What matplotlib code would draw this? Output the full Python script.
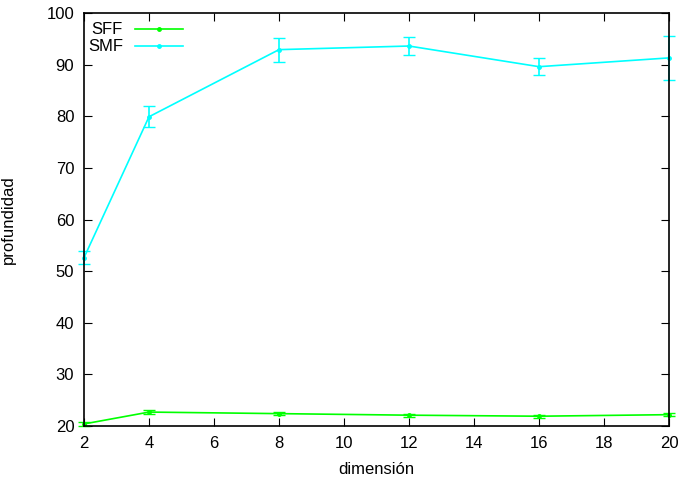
#!/usr/bin/env python3

import matplotlib
matplotlib.use("Agg")
import matplotlib.pyplot as plt

plt.rcParams['font.family'] = ['Liberation Sans', 'DejaVu Sans']

dim = [2, 4, 8, 12, 16, 20]

sff = [20.4, 22.7, 22.4, 22.1, 21.9, 22.2]
sff_err = [0.3, 0.4, 0.3, 0.3, 0.3, 0.3]

smf = [52.6, 79.9, 92.9, 93.6, 89.6, 91.3]
smf_err = [1.3, 2.0, 2.3, 1.8, 1.7, 4.3]

names = ["SFF", "SMF"]
colors = ["#00ff00", "#00ffff"]

fig = plt.figure(figsize=(6.79, 4.79), dpi=100)
ax = fig.add_axes([0.1237, 0.1106, 0.8616, 0.8623])

for y, e, c in [(sff, sff_err, colors[0]), (smf, smf_err, colors[1])]:
    parts = ax.errorbar(dim, y, yerr=e, color=c, marker=".", markersize=5,
                        linewidth=1.2, capsize=4, elinewidth=1.2)
    for a in parts.get_children():
        a.set_clip_on(False)

ax.set_xlim(2, 20)
ax.set_ylim(20, 100)
ax.set_xticks(range(2, 21, 2))
ax.set_yticks(range(20, 101, 10))
ax.tick_params(direction="in", top=True, right=True, length=6, labelsize=12, pad=7)
for s in ax.spines.values():
    s.set_linewidth(1.2)

ax.set_xlabel("dimensión", fontsize=12, labelpad=8)
ax.set_ylabel("profundidad", fontsize=12, labelpad=22)

# gnuplot style key: right aligned text, then line sample
for i, (n, c) in enumerate(zip(names, colors)):
    yy = 0.961 - i * 0.041
    ax.text(0.0667, yy, n, transform=ax.transAxes, ha="right", va="center", fontsize=12)
    ax.plot([0.0872, 0.169], [yy, yy], color=c, linewidth=1.2, transform=ax.transAxes)
    ax.plot([0.128], [yy], color=c, marker=".", markersize=5, transform=ax.transAxes)

fig.savefig("out.png", dpi=100)
